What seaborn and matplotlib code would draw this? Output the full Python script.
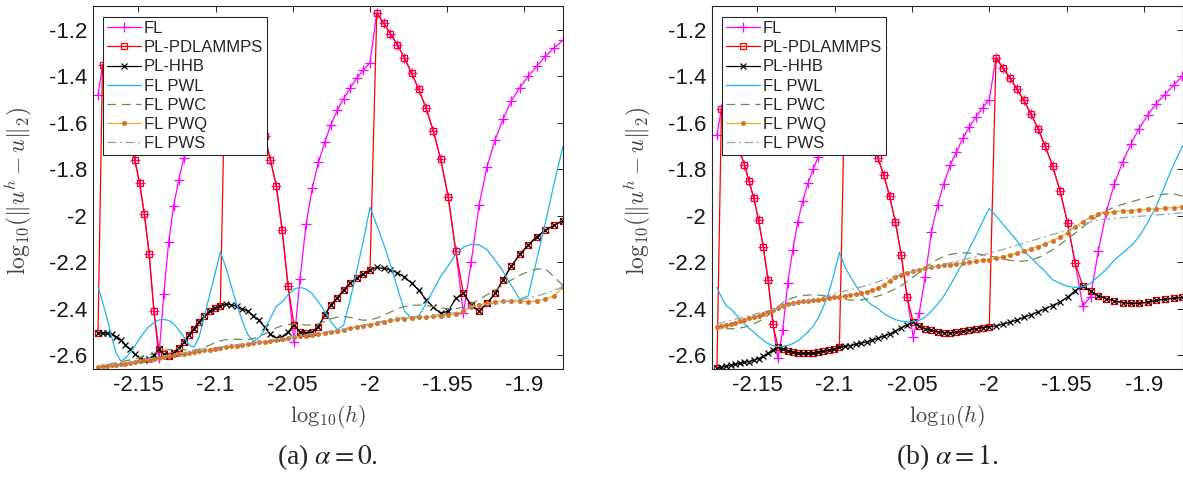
import numpy as np
import pandas as pd
import seaborn as sns
import matplotlib
matplotlib.use("Agg")
import matplotlib.pyplot as plt

# mesh sizes h = 1/N, N = 75 ... 150
mesh_n = list(range(75, 151))

# ---- alpha = 0 ----
a0_fl = [-1.244, -1.277, -1.313, -1.356, -1.399, -1.448, -1.505, -1.583, -1.674, -1.789, -1.954, -2.198, -2.420,
         -2.152, -1.918, -1.756, -1.634, -1.535, -1.455, -1.385, -1.320, -1.263, -1.216, -1.170, -1.127,
         -1.340, -1.373, -1.406, -1.450, -1.495, -1.545, -1.607, -1.684, -1.770, -1.882, -2.036, -2.272, -2.542,
         -2.300, -2.060, -1.870, -1.760, -1.655, -1.575, -1.505, -1.440, -1.383, -1.336, -1.290, -1.250,
         -1.410, -1.443, -1.476, -1.520, -1.565, -1.615, -1.677, -1.753, -1.846, -1.957, -2.113, -2.337, -2.610,
         -2.410, -2.162, -1.990, -1.858, -1.760, -1.680, -1.610, -1.545, -1.488, -1.440, -1.395, -1.350,
         -1.480]
a0_pdlammps = [-2.021, -2.040, -2.062, -2.090, -2.126, -2.166, -2.216, -2.274, -2.334, -2.377, -2.410, -2.384, -2.334,
               -2.152, -1.918, -1.756, -1.634, -1.535, -1.455, -1.385, -1.320, -1.263, -1.216, -1.170, -1.127,
               -2.232, -2.250, -2.267, -2.289, -2.320, -2.352, -2.384, -2.428, -2.477, -2.500, -2.505, -2.499, -2.470,
               -2.300, -2.060, -1.870, -1.760, -1.655, -1.575, -1.505, -1.440, -1.383, -1.336, -1.290, -1.250,
               -2.387, -2.395, -2.410, -2.433, -2.455, -2.485, -2.513, -2.545, -2.570, -2.590, -2.603, -2.595, -2.575,
               -2.410, -2.162, -1.990, -1.858, -1.760, -1.680, -1.610, -1.545, -1.488, -1.440, -1.395, -1.350,
               -2.506]
a0_hhb = [-2.021, -2.040, -2.062, -2.090, -2.126, -2.166, -2.216, -2.274, -2.334, -2.377, -2.410, -2.384, -2.334,
          -2.355, -2.410, -2.420, -2.393, -2.360, -2.320, -2.290, -2.262, -2.245, -2.232, -2.226, -2.222,
          -2.232, -2.250, -2.267, -2.289, -2.320, -2.352, -2.384, -2.428, -2.477, -2.500, -2.505, -2.499, -2.470,
          -2.500, -2.520, -2.525, -2.510, -2.480, -2.450, -2.430, -2.410, -2.400, -2.390, -2.382, -2.380,
          -2.387, -2.395, -2.410, -2.433, -2.455, -2.485, -2.513, -2.545, -2.570, -2.590, -2.603, -2.595, -2.575,
          -2.600, -2.615, -2.620, -2.610, -2.595, -2.575, -2.555, -2.535, -2.520, -2.510, -2.505, -2.503,
          -2.506]
a0_pwl = [-1.700, -1.860, -2.030, -2.190, -2.345, -2.360, -2.300, -2.240, -2.190, -2.145, -2.125, -2.122, -2.135,
          -2.165, -2.215, -2.260, -2.320, -2.380, -2.430, -2.440, -2.410, -2.310, -2.210, -2.120, -2.040,
          -1.964, -2.106, -2.236, -2.362, -2.470, -2.490, -2.455, -2.410, -2.370, -2.335, -2.315, -2.308, -2.315,
          -2.340, -2.370, -2.390, -2.440, -2.490, -2.525, -2.540, -2.510, -2.450, -2.380, -2.300, -2.220,
          -2.155, -2.250, -2.340, -2.430, -2.520, -2.565, -2.555, -2.520, -2.490, -2.465, -2.450, -2.446, -2.448,
          -2.460, -2.475, -2.500, -2.530, -2.560, -2.590, -2.612, -2.625, -2.590, -2.520, -2.440, -2.370,
          -2.305]
a0_pwc = [-2.300, -2.262, -2.228, -2.229, -2.240, -2.256, -2.276, -2.298, -2.320, -2.340, -2.360, -2.379, -2.393,
          -2.400, -2.400, -2.396, -2.390, -2.386, -2.384, -2.385, -2.390, -2.400, -2.414, -2.428, -2.440,
          -2.448, -2.449, -2.444, -2.437, -2.434, -2.436, -2.443, -2.455, -2.465, -2.470, -2.470, -2.467, -2.466,
          -2.468, -2.473, -2.482, -2.494, -2.508, -2.520, -2.528, -2.532, -2.532, -2.531, -2.531, -2.533,
          -2.538, -2.546, -2.556, -2.566, -2.574, -2.578, -2.578, -2.576, -2.574, -2.574, -2.576, -2.580, -2.586,
          -2.592, -2.598, -2.604, -2.610, -2.615, -2.620, -2.624, -2.628, -2.632, -2.636, -2.640, -2.645,
          -2.650]
a0_pwq = [-2.305, -2.345, -2.358, -2.366, -2.369, -2.367, -2.366, -2.368, -2.372, -2.377, -2.383, -2.392, -2.410,
          -2.421, -2.427, -2.430, -2.433, -2.435, -2.437, -2.439, -2.442, -2.446, -2.450, -2.456, -2.463,
          -2.469, -2.474, -2.479, -2.484, -2.490, -2.495, -2.500, -2.504, -2.508, -2.511, -2.515, -2.519, -2.523,
          -2.527, -2.530, -2.534, -2.537, -2.541, -2.545, -2.548, -2.551, -2.555, -2.558, -2.562, -2.565,
          -2.569, -2.572, -2.576, -2.579, -2.583, -2.586, -2.590, -2.593, -2.596, -2.600, -2.603, -2.607, -2.611,
          -2.615, -2.619, -2.622, -2.626, -2.630, -2.633, -2.636, -2.639, -2.642, -2.644, -2.646, -2.648,
          -2.650]
a0_pws = [-2.305, -2.320, -2.334, -2.345, -2.355, -2.360, -2.366, -2.371, -2.376, -2.381, -2.386, -2.391, -2.405,
          -2.416, -2.422, -2.425, -2.428, -2.430, -2.432, -2.434, -2.437, -2.441, -2.445, -2.451, -2.458,
          -2.464, -2.470, -2.475, -2.480, -2.486, -2.491, -2.496, -2.500, -2.504, -2.507, -2.511, -2.515, -2.519,
          -2.523, -2.526, -2.530, -2.533, -2.537, -2.541, -2.544, -2.547, -2.551, -2.554, -2.558, -2.561,
          -2.565, -2.568, -2.572, -2.575, -2.579, -2.582, -2.586, -2.589, -2.592, -2.596, -2.599, -2.603, -2.607,
          -2.611, -2.615, -2.618, -2.622, -2.626, -2.629, -2.632, -2.635, -2.638, -2.640, -2.642, -2.644,
          -2.646]

# ---- alpha = 1 ----
a1_fl = [-1.399, -1.438, -1.478, -1.517, -1.567, -1.624, -1.692, -1.770, -1.861, -1.983, -2.150, -2.348, -2.388,
         -2.202, -2.029, -1.892, -1.785, -1.700, -1.624, -1.560, -1.502, -1.452, -1.405, -1.363, -1.319,
         -1.500, -1.534, -1.574, -1.617, -1.665, -1.725, -1.782, -1.861, -1.954, -2.069, -2.262, -2.420, -2.520,
         -2.351, -2.169, -2.026, -1.915, -1.825, -1.753, -1.690, -1.632, -1.582, -1.535, -1.493, -1.450,
         -1.575, -1.609, -1.649, -1.692, -1.746, -1.800, -1.860, -1.935, -2.026, -2.148, -2.290, -2.492, -2.613,
         -2.466, -2.277, -2.133, -2.018, -1.923, -1.851, -1.779, -1.722, -1.672, -1.625, -1.583, -1.538,
         -1.650]
a1_pdlammps = [-2.351, -2.355, -2.358, -2.364, -2.372, -2.376, -2.377, -2.373, -2.366, -2.356, -2.344, -2.324, -2.302,
               -2.202, -2.029, -1.892, -1.785, -1.700, -1.624, -1.560, -1.502, -1.452, -1.405, -1.363, -1.319,
               -2.477, -2.481, -2.486, -2.491, -2.497, -2.501, -2.503, -2.502, -2.499, -2.493, -2.486, -2.475, -2.456,
               -2.351, -2.169, -2.026, -1.915, -1.825, -1.753, -1.690, -1.632, -1.582, -1.535, -1.493, -1.450,
               -2.566, -2.572, -2.578, -2.583, -2.587, -2.590, -2.592, -2.592, -2.590, -2.586, -2.580, -2.572, -2.563,
               -2.466, -2.277, -2.133, -2.018, -1.923, -1.851, -1.779, -1.722, -1.672, -1.625, -1.583, -1.538,
               -2.656]
a1_hhb = [-2.351, -2.355, -2.358, -2.364, -2.372, -2.376, -2.377, -2.373, -2.366, -2.356, -2.344, -2.324, -2.302,
          -2.322, -2.350, -2.370, -2.386, -2.399, -2.413, -2.426, -2.437, -2.449, -2.458, -2.466, -2.474,
          -2.477, -2.481, -2.486, -2.491, -2.497, -2.501, -2.503, -2.502, -2.499, -2.493, -2.486, -2.475, -2.456,
          -2.468, -2.482, -2.496, -2.508, -2.518, -2.527, -2.535, -2.542, -2.548, -2.553, -2.558, -2.562,
          -2.566, -2.572, -2.578, -2.583, -2.587, -2.590, -2.592, -2.592, -2.590, -2.586, -2.580, -2.572, -2.563,
          -2.577, -2.592, -2.604, -2.614, -2.621, -2.627, -2.631, -2.635, -2.639, -2.644, -2.648, -2.652,
          -2.656]
a1_pwl = [-1.700, -1.780, -1.870, -1.960, -2.030, -2.090, -2.130, -2.160, -2.190, -2.230, -2.260, -2.290, -2.305,
          -2.308, -2.303, -2.290, -2.275, -2.240, -2.210, -2.180, -2.150, -2.105, -2.070, -2.035, -2.000,
          -1.968, -2.025, -2.085, -2.140, -2.200, -2.250, -2.300, -2.345, -2.380, -2.410, -2.435, -2.450, -2.456,
          -2.456, -2.453, -2.447, -2.435, -2.420, -2.400, -2.385, -2.365, -2.335, -2.300, -2.260, -2.220,
          -2.157, -2.250, -2.330, -2.390, -2.440, -2.475, -2.500, -2.520, -2.538, -2.550, -2.558, -2.562, -2.563,
          -2.558, -2.550, -2.535, -2.520, -2.500, -2.484, -2.465, -2.445, -2.420, -2.400, -2.385, -2.350,
          -2.308]
a1_pwc = [-1.915, -1.905, -1.906, -1.912, -1.921, -1.930, -1.940, -1.950, -1.962, -1.978, -1.998, -2.022, -2.048,
          -2.074, -2.100, -2.124, -2.146, -2.165, -2.180, -2.190, -2.195, -2.195, -2.191, -2.185, -2.178,
          -2.172, -2.167, -2.163, -2.160, -2.159, -2.161, -2.166, -2.175, -2.187, -2.203, -2.222, -2.243, -2.264,
          -2.283, -2.300, -2.314, -2.326, -2.336, -2.345, -2.352, -2.358, -2.362, -2.363, -2.362, -2.359,
          -2.355, -2.350, -2.346, -2.343, -2.341, -2.340, -2.341, -2.343, -2.347, -2.353, -2.362, -2.375, -2.392,
          -2.410, -2.428, -2.443, -2.455, -2.465, -2.473, -2.479, -2.483, -2.485, -2.486, -2.486, -2.485,
          -2.484]
a1_pwq = [-1.961, -1.964, -1.967, -1.969, -1.972, -1.974, -1.977, -1.979, -1.982, -1.986, -1.992, -2.004, -2.025,
          -2.048, -2.073, -2.091, -2.106, -2.120, -2.132, -2.142, -2.152, -2.161, -2.169, -2.176, -2.183,
          -2.188, -2.192, -2.196, -2.200, -2.203, -2.206, -2.210, -2.213, -2.216, -2.220, -2.225, -2.231, -2.238,
          -2.246, -2.255, -2.265, -2.280, -2.296, -2.310, -2.321, -2.327, -2.332, -2.337, -2.341, -2.345,
          -2.348, -2.351, -2.354, -2.357, -2.361, -2.363, -2.366, -2.368, -2.371, -2.375, -2.380, -2.386, -2.395,
          -2.405, -2.414, -2.422, -2.429, -2.435, -2.441, -2.448, -2.454, -2.460, -2.465, -2.469, -2.473,
          -2.477]
a1_pws = [-1.987, -1.990, -1.993, -1.996, -1.999, -2.002, -2.005, -2.008, -2.011, -2.014, -2.017, -2.027, -2.038,
          -2.050, -2.061, -2.071, -2.080, -2.090, -2.099, -2.108, -2.118, -2.127, -2.136, -2.145, -2.153,
          -2.162, -2.169, -2.176, -2.182, -2.189, -2.196, -2.202, -2.209, -2.215, -2.222, -2.228, -2.235, -2.241,
          -2.248, -2.254, -2.260, -2.266, -2.274, -2.283, -2.291, -2.300, -2.306, -2.312, -2.318, -2.324,
          -2.330, -2.336, -2.342, -2.348, -2.354, -2.359, -2.365, -2.370, -2.376, -2.381, -2.387, -2.392, -2.397,
          -2.403, -2.408, -2.414, -2.419, -2.424, -2.430, -2.435, -2.440, -2.445, -2.450, -2.455, -2.460,
          -2.465]

x_ticks = [-2.15, -2.1, -2.05, -2, -1.95, -1.9]
x_tick_labels = ["-2.15", "-2.1", "-2.05", "-2", "-1.95", "-1.9"]
y_ticks = [-2.6, -2.4, -2.2, -2.0, -1.8, -1.6, -1.4, -1.2]
y_tick_labels = ["-2.6", "-2.4", "-2.2", "-2", "-1.8", "-1.6", "-1.4", "-1.2"]
captions = [r"(a) $\alpha = 0$.", r"(b) $\alpha = 1$."]

sns.set_style("white")
plt.rcParams["font.family"] = ["Liberation Sans", "DejaVu Sans"]

# name, colour, marker, linestyle, extra marker options
styles = [
    ("FL", "#ff00ff", "+", "-", dict(markersize=7, markeredgewidth=0.9)),
    ("PL-PDLAMMPS", "#ff0000", "s", "-", dict(markersize=5, markeredgewidth=0.9, markerfacecolor="none")),
    ("PL-HHB", "#000000", "x", "-", dict(markersize=5, markeredgewidth=0.9)),
    ("FL PWL", "#1cb5ee", None, "-", {}),
    ("FL PWC", "#6e8a4e", None, (0, (7, 4.5)), {}),
    ("FL PWQ", "#edb120", "o", "-", dict(markersize=3.6, markeredgewidth=0,
                                          markerfacecolor="#d8712a")),
    ("FL PWS", "#92a6b0", None, (0, (7, 3, 1.5, 3)), {}),
]


def draw_panel(ax, series, caption):
    log_h = np.log10(1.0 / np.array(mesh_n, dtype=float))
    for (name, color, marker, ls, mkw), vals in zip(styles, series):
        df = pd.DataFrame({"log_h": log_h, "err": vals})
        kw = dict(mkw)
        if marker is not None:
            kw.setdefault("markeredgecolor", color)
        sns.lineplot(data=df, x="log_h", y="err", ax=ax, color=color, marker=marker,
                     linestyle=ls, linewidth=0.9, label=name, sort=False,
                     estimator=None, **kw)

    ax.set_xlim(-2.1795, -1.875)
    ax.set_ylim(-2.659, -1.097)
    ax.set_xticks(x_ticks)
    ax.set_xticklabels(x_tick_labels)
    ax.set_yticks(y_ticks)
    ax.set_yticklabels(y_tick_labels)
    ax.tick_params(direction="in", top=True, right=True, length=4.5, width=0.7,
                   color="#262626", labelsize=16, labelcolor="#1a1a1a", pad=4)
    for sp in ax.spines.values():
        sp.set_color("#262626")
        sp.set_linewidth(0.8)

    ax.set_xlabel(r"$\mathrm{log}_{10}(h)$", fontsize=16, math_fontfamily="cm", color="#444444")
    ax.xaxis.set_label_coords(0.5, -0.095)
    ax.set_ylabel(r"$\mathrm{log}_{10}(\|u^h-u\|_2)$", fontsize=17, math_fontfamily="cm",
                  color="#444444")
    ax.yaxis.set_label_coords(-0.125, 0.49)

    leg = ax.legend(loc="upper left", bbox_to_anchor=(0.022, 0.97), fontsize=12,
                    frameon=True, fancybox=False, framealpha=1, edgecolor="#262626",
                    borderpad=0.25, labelspacing=0.25, handlelength=2.0,
                    handletextpad=0.2, borderaxespad=0)
    leg.get_frame().set_linewidth(0.8)

    ax.text(0.5, -0.242, caption, transform=ax.transAxes, ha="center", va="center",
            fontsize=20, family="Liberation Serif", math_fontfamily="stix")


fig = plt.figure(figsize=(11.83, 4.8), dpi=100)
ax_a = fig.add_axes([0.0784, 0.2313, 0.3976, 0.756])
ax_b = fig.add_axes([0.6016, 0.2313, 0.3980, 0.756])

draw_panel(ax_a, [a0_fl, a0_pdlammps, a0_hhb, a0_pwl, a0_pwc, a0_pwq, a0_pws], captions[0])
draw_panel(ax_b, [a1_fl, a1_pdlammps, a1_hhb, a1_pwl, a1_pwc, a1_pwq, a1_pws], captions[1])

fig.savefig("out.png", dpi=100)
